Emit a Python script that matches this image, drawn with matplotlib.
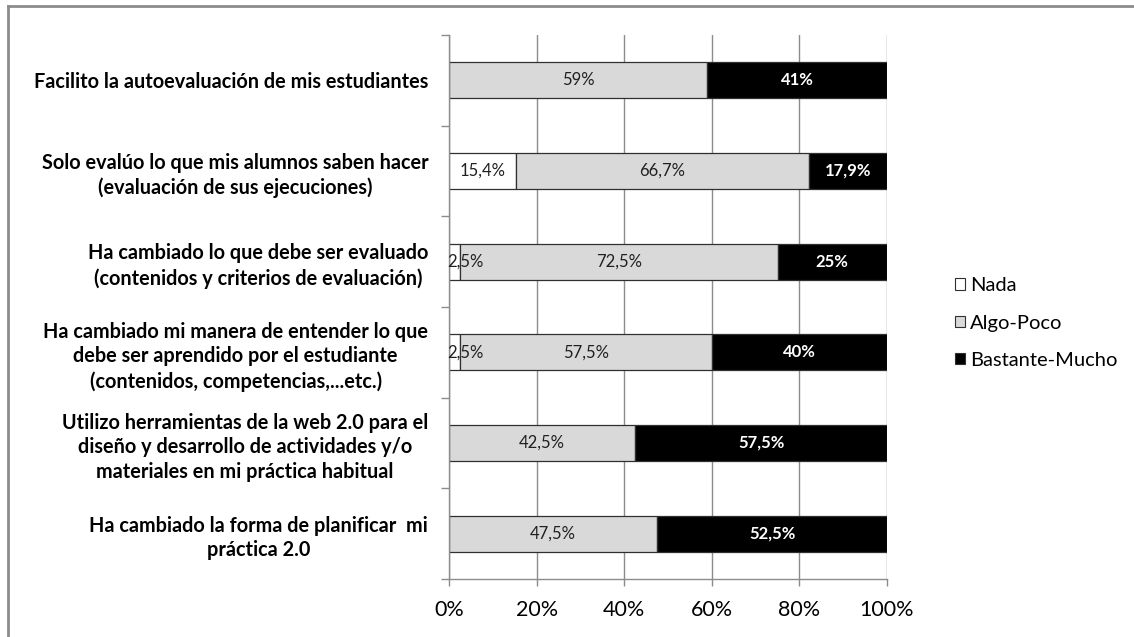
import matplotlib.pyplot as plt
import numpy as np
from matplotlib.patches import Patch
from matplotlib.lines import Line2D

# Data (percent)
categorias = [
    "Facilito la autoevaluación de mis estudiantes",
    "Solo evalúo lo que mis alumnos saben hacer\n(evaluación de sus ejecuciones)",
    "Ha cambiado lo que debe ser evaluado\n(contenidos y criterios de evaluación)",
    "Ha cambiado mi manera de entender lo que\ndebe ser aprendido por el estudiante\n(contenidos, competencias,...etc.)",
    "Utilizo herramientas de la web 2.0 para el\ndiseño y desarrollo de actividades y/o\nmateriales en mi práctica habitual",
    "Ha cambiado la forma de planificar  mi\npráctica 2.0",
]
nada = [0, 15.4, 2.5, 2.5, 0, 0]
algo_poco = [59, 66.7, 72.5, 57.5, 42.5, 47.5]
bastante_mucho = [41, 17.9, 25, 40, 57.5, 52.5]

etiquetas_nada = ["", "15,4%", "2,5%", "2,5%", "", ""]
etiquetas_algo = ["59%", "66,7%", "72,5%", "57,5%", "42,5%", "47,5%"]
etiquetas_bastante = ["41%", "17,9%", "25%", "40%", "57,5%", "52,5%"]

series = ["Nada", "Algo-Poco", "Bastante-Mucho"]
colores = ["white", "#d9d9d9", "black"]

plt.rcParams['font.family'] = ['Lato', 'DejaVu Sans']

fig = plt.figure(figsize=(11.34, 6.37), dpi=100)
ax = fig.add_axes([449 / 1134, 1 - 579 / 637, 438 / 1134, 544 / 637])

y = np.arange(len(categorias))
nada_f = np.array(nada) / 100
algo_f = np.array(algo_poco) / 100
bast_f = np.array(bastante_mucho) / 100

ax.set_axisbelow(True)
ax.grid(axis='x', color='#8c8c8c', linewidth=1)

h = 0.4
ax.barh(y, nada_f, height=h, color=colores[0], edgecolor='#303030', linewidth=0.9)
ax.barh(y, algo_f, left=nada_f, height=h, color=colores[1], edgecolor='#303030', linewidth=0.9)
ax.barh(y, bast_f, left=nada_f + algo_f, height=h, color=colores[2], edgecolor='#303030', linewidth=0.9)

# data labels
for i in range(len(categorias)):
    if etiquetas_nada[i]:
        ax.text(nada_f[i] / 2 + (0.025 if nada_f[i] < 0.05 else 0), y[i], etiquetas_nada[i],
                ha='center', va='center', fontsize=12, color='#202020')
    ax.text(nada_f[i] + algo_f[i] / 2, y[i], etiquetas_algo[i],
            ha='center', va='center', fontsize=12, color='#202020')
    ax.text(nada_f[i] + algo_f[i] + bast_f[i] / 2, y[i], etiquetas_bastante[i],
            ha='center', va='center', fontsize=12, color='white', fontweight='bold')

ax.set_xlim(0, 1)
ax.set_ylim(len(categorias) - 0.5, -0.5)
ax.set_xticks(np.arange(0, 1.01, 0.2))
ax.set_xticklabels([f"{int(v * 100)}%" for v in np.arange(0, 1.01, 0.2)], fontsize=15.5)
ax.tick_params(axis='x', length=5, width=1, color='#8c8c8c', pad=10)

ax.set_yticks(y)
ax.set_yticklabels(categorias, fontsize=14.3, fontweight='bold', multialignment='center',
                   linespacing=1.3)
ax.tick_params(axis='y', length=0, pad=15)
ax.set_yticks(np.arange(-0.5, len(categorias)), minor=True)
ax.tick_params(axis='y', which='minor', length=6, width=1, color='#8c8c8c')

for s in ['top', 'right']:
    ax.spines[s].set_visible(False)
for s in ['left', 'bottom']:
    ax.spines[s].set_color('#8c8c8c')
    ax.spines[s].set_linewidth(1)

handles = [Patch(facecolor=c, edgecolor='#303030', linewidth=0.8) for c in colores]
fig.legend(handles, series, loc='center left', bbox_to_anchor=(955 / 1134, 1 - 323 / 637),
           frameon=False, fontsize=14.5, handlelength=0.5, handleheight=0.5,
           handletextpad=0.25, labelspacing=1.0, borderpad=0, borderaxespad=0)

# outer frame (top and left only)
fig.add_artist(Line2D([8 / 1134, 8 / 1134], [0, 1 - 6 / 637], transform=fig.transFigure,
                      color='#8c8c8c', linewidth=2))
fig.add_artist(Line2D([8 / 1134, 1], [1 - 6 / 637, 1 - 6 / 637], transform=fig.transFigure,
                      color='#8c8c8c', linewidth=2))

fig.savefig('out.png', dpi=100)
